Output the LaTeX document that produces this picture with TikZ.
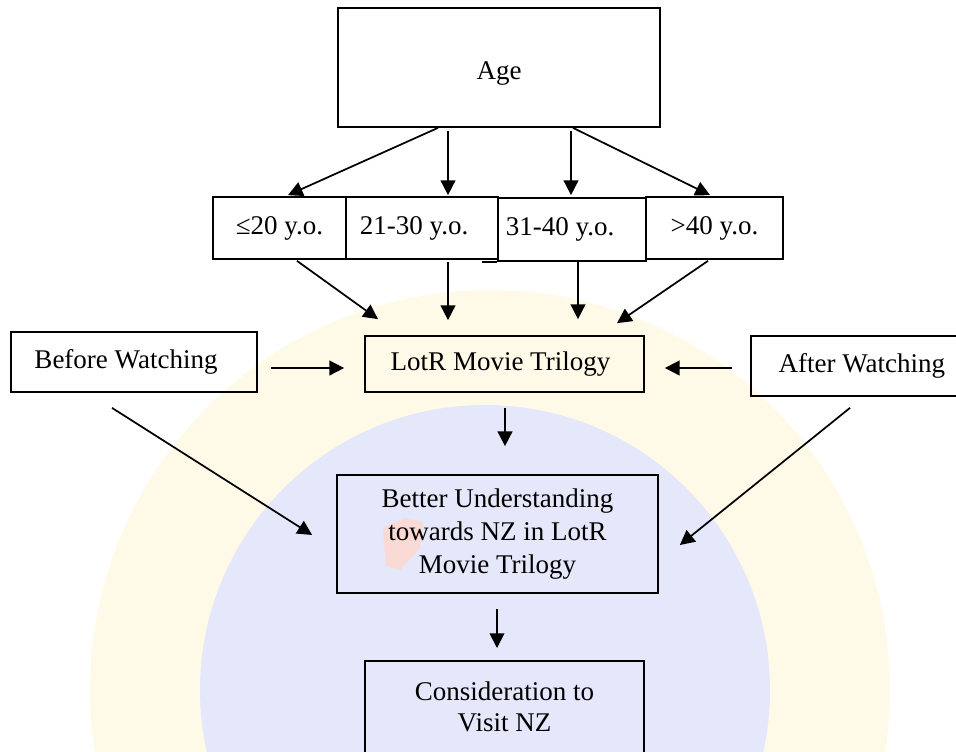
\documentclass[tikz,border=0pt]{standalone}
\usepackage{fontspec}
\setmainfont{Liberation Serif}
\usetikzlibrary{arrows.meta,calc}
\definecolor{wmyellow}{RGB}{255,250,232}
\definecolor{wmblue}{RGB}{229,231,250}
\definecolor{wmred}{RGB}{250,218,212}
\begin{document}
\begin{tikzpicture}[x=0.75pt,y=-0.75pt,
  box/.style={draw=black, line width=1.3pt, inner sep=0pt, align=center,
    font=\fontsize{20.25}{24.4}\selectfont},
  txt/.style={inner sep=0pt, align=center, font=\fontsize{20.25}{23.5}\selectfont},
  arr/.style={-{Triangle[length=11pt,width=11pt]}, line width=1.3pt}]
\useasboundingbox (0,0) rectangle (956,751);
\clip (0,0) rectangle (956,751);
% faint watermark
\fill[wmyellow] (490,690) circle[radius=400];
\fill[wmblue] (485,690) circle[radius=285];
\fill[wmred] (383,528) -- (405,518) -- (423,522) -- (420,548) -- (400,570) -- (386,566) -- cycle;
% boxes
\node[box, minimum width=241.5pt, minimum height=89.25pt] (age) at (499,67.5) {\raisebox{-9pt}[0pt][0pt]{Age}};
\node[box, minimum width=99.75pt, minimum height=46.5pt] (b1) at (279.5,228) {≤20 y.o.};
\node[box, minimum width=114pt, minimum height=46.5pt] (b2) at (422,228) {21-30 y.o.\hspace*{12pt}};
\node[box, minimum width=111pt, minimum height=47.25pt] (b3) at (572,229.5) {31-40 y.o.\hspace*{18pt}};
\node[box, minimum width=102.75pt, minimum height=46.5pt] (b4) at (714.5,228) {>40 y.o.};
\node[box, minimum width=184.5pt, minimum height=45pt] (before) at (134,362) {Before Watching\hspace*{12pt}};
\node[box, minimum width=209.25pt, minimum height=42pt] (lotr) at (504.5,364) {LotR Movie Trilogy\hspace*{6pt}};
\node[box, minimum width=164.25pt, minimum height=45pt] (after) at (860.5,366) {\hspace*{2pt}After Watching};
\node[box, minimum width=240.75pt, minimum height=88.5pt] (better) at (497.5,534) {Better Understanding\\towards NZ in LotR\\Movie Trilogy};
\node[box, minimum width=209.25pt, minimum height=90pt, anchor=north] (consid) at (504.5,660) {};
\node[txt] (considtext) at (504.5,707) {Consideration to\\Visit NZ};
\draw[line width=1.3pt] ($(b3.south west)+(-15,0)$) -- (b3.south west);
% arrows from Age
\draw[arr] ($(age.south)+(-61,0)$) -- ($(b1.north)+(8.5,-1)$);
\draw[arr] ($(age.south)+(-51,3)$) -- ($(b2.north)+(26,-1)$);
\draw[arr] ($(age.south)+(72,3)$) -- ($(b3.north)+(-1,-2)$);
\draw[arr] ($(age.south)+(74,0)$) -- ($(b4.north)+(-4.5,-1)$);
% arrows to LotR
\draw[arr] ($(b1.south)+(17.5,1)$) -- ($(lotr.north)+(-126.5,-16)$);
\draw[arr] ($(b2.south)+(26,2)$) -- ($(lotr.north)+(-56.5,-15)$);
\draw[arr] ($(b3.south)+(6,0)$) -- ($(lotr.north)+(73.5,-16)$);
\draw[arr] ($(b4.south)+(-6.5,1)$) -- ($(lotr.north)+(112.5,-12)$);
\draw[arr] ($(before.east)+(13,6)$) -- ($(lotr.west)+(-20,4)$);
\draw[arr] ($(after.west)+(-18,2)$) -- ($(lotr.east)+(20,4)$);
% arrows to Better
\draw[arr] ($(lotr.south)+(0.5,15)$) -- ($(better.north)+(7.5,-28)$);
\draw[arr] ($(before.south)+(-22,15)$) -- ($(better.west)+(-24,1)$);
\draw[arr] ($(after.south)+(-10.5,11)$) -- ($(better.east)+(21,11)$);
% arrow to Consideration
\draw[arr] ($(better.south)+(-0.5,15)$) -- ($(consid.north)+(-7.5,-12)$);
\end{tikzpicture}
\end{document}
